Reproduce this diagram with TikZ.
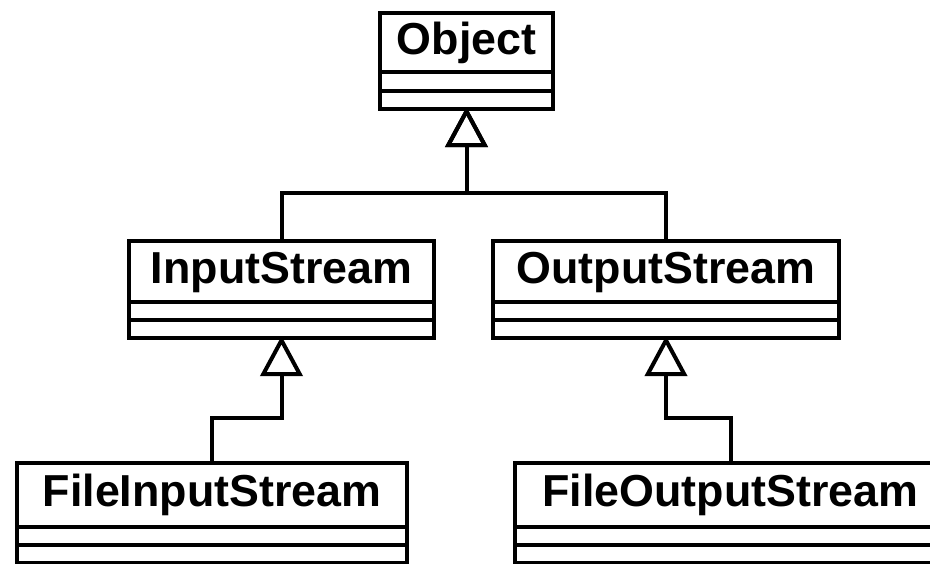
\documentclass[tikz,border=0pt]{standalone}
\usepackage{fontspec}
\setmainfont{Liberation Sans}
\usetikzlibrary{arrows.meta}
\begin{document}
\begin{tikzpicture}[x=1pt,y=-1pt,
  classhead/.style={draw, line width=4pt, outer sep=0pt, inner sep=0pt,
    fill=white, text height=23pt, text depth=0pt,
    font=\fontsize{44.8}{50}\selectfont\bfseries},
  compart/.style={draw, line width=4pt, outer sep=0pt, inner sep=0pt,
    fill=white, minimum height=18pt},
  gen/.style={line width=4pt, line join=miter, shorten >=-2pt,
    -{Triangle[open, length=40pt, width=42pt]}}]
  \useasboundingbox (0,0) rectangle (930,563);
  \clip (0,0) rectangle (930,563);
  \fill[white] (0,0) rectangle (930,563);

  % class boxes: name compartment, then two empty compartments
  \node[classhead, minimum width=173pt, minimum height=59pt] (obj) at (466.5,42.5) {Object};
  \node[compart, minimum width=173pt, minimum height=19pt, anchor=north] (obj-a) at (obj.south) {};
  \node[compart, minimum width=173pt, anchor=north] (obj-o) at (obj-a.south) {};

  \node[classhead, minimum width=305pt, minimum height=61pt] (in) at (281.5,271.5) {InputStream};
  \node[compart, minimum width=305pt, anchor=north] (in-a) at (in.south) {};
  \node[compart, minimum width=305pt, anchor=north] (in-o) at (in-a.south) {};

  \node[classhead, minimum width=346pt, minimum height=61pt] (out) at (666,271.5) {OutputStream};
  \node[compart, minimum width=346pt, anchor=north] (out-a) at (out.south) {};
  \node[compart, minimum width=346pt, anchor=north] (out-o) at (out-a.south) {};

  \node[classhead, minimum width=390pt, minimum height=64pt] (fin) at (212,495) {FileInputStream};
  \node[compart, minimum width=390pt, anchor=north] (fin-a) at (fin.south) {};
  \node[compart, minimum width=390pt, anchor=north] (fin-o) at (fin-a.south) {};

  \node[classhead, minimum width=431pt, minimum height=64pt] (fout) at (730.5,495) {FileOutputStream};
  \node[compart, minimum width=431pt, anchor=north] (fout-a) at (fout.south) {};
  \node[compart, minimum width=431pt, anchor=north] (fout-o) at (fout-a.south) {};

  % generalization connectors
  \draw[gen] (in.north) -- ++(0,-48) -| (obj-o.south);
  \draw[gen] (out.north) -- ++(0,-48) -| (obj-o.south);
  \draw[gen] (fin.north) -- ++(0,-45) -| (in-o.south);
  \draw[gen] (fout.north) -- ++(0,-45) -| (out-o.south);
\end{tikzpicture}
\end{document}
